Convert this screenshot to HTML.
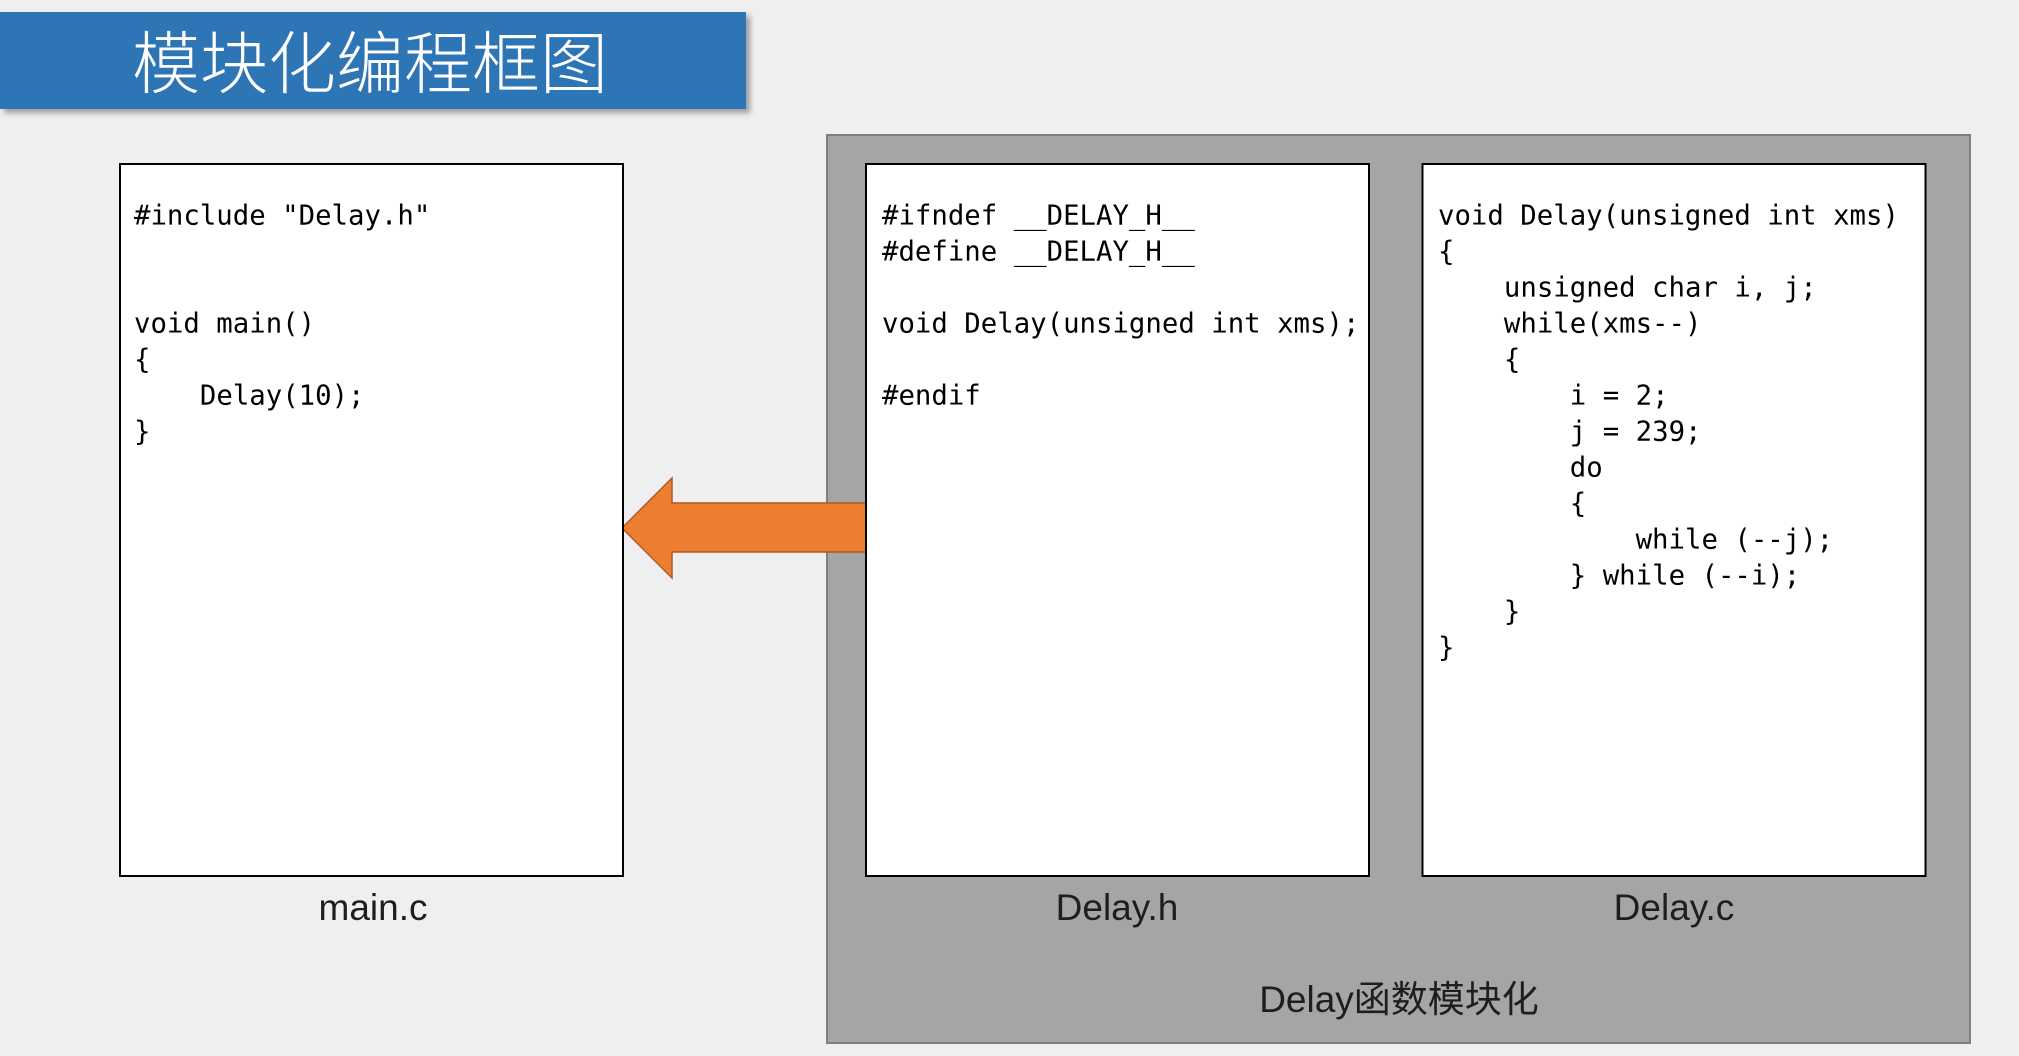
<!DOCTYPE html>
<html>
<head>
<meta charset="utf-8">
<style>
  html, body { margin: 0; padding: 0; background: #EFEFEF; }
  body { width: 2019px; height: 1056px; overflow: hidden; position: relative; }
  svg { position: absolute; left: 0; top: 0; }
  .code { font-family: "DejaVu Sans Mono", "Liberation Mono", monospace; font-size: 27.35px; fill: #000; }
  .lbl { font-family: "Liberation Sans", "Noto Sans CJK SC", sans-serif; font-size: 37px; fill: #1e1e1e; }
</style>
</head>
<body>
<svg width="2019" height="1056" viewBox="0 0 2019 1056" xmlns="http://www.w3.org/2000/svg">
  <defs>
    <filter id="sh" x="-5%" y="-20%" width="115%" height="160%">
      <feDropShadow dx="4" dy="4" stdDeviation="3" flood-color="#000" flood-opacity="0.35"/>
    </filter>
  </defs>
  <rect x="0" y="0" width="2019" height="1056" fill="#EFEFEF"/>

  <!-- Title bar -->
  <rect x="0" y="12" width="746" height="97" fill="#2E75B6" filter="url(#sh)"/>
  <text x="132" y="88" font-family="'Noto Sans CJK SC', 'WenQuanYi Zen Hei', sans-serif" font-weight="300" font-size="68" fill="#FFFFFF">模块化编程框图</text>

  <!-- Gray panel -->
  <rect x="827" y="135" width="1143" height="908" fill="#A5A5A5" stroke="#7F7F7F" stroke-width="2"/>

  <!-- Arrow -->
  <polygon points="622,528 672,478 672,503 866,503 866,552 672,552 672,578" fill="#ED7D31" stroke="#AE5A21" stroke-width="1.5" stroke-linejoin="miter"/>

  <!-- Boxes -->
  <rect x="120" y="164" width="503" height="712" fill="#FFFFFF" stroke="#000" stroke-width="2"/>
  <rect x="866" y="164" width="503" height="712" fill="#FFFFFF" stroke="#000" stroke-width="2"/>
  <rect x="1422.5" y="164" width="503" height="712" fill="#FFFFFF" stroke="#000" stroke-width="2"/>

  <!-- main.c code -->
  <g class="code">
    <text x="134" y="224.5">#include "Delay.h"</text>
    <text x="134" y="332.5">void main()</text>
    <text x="134" y="368.5">{</text>
    <text x="199.9" y="404.5">Delay(10);</text>
    <text x="134" y="440.5">}</text>
  </g>

  <!-- Delay.h code -->
  <g class="code">
    <text x="882" y="224.5">#ifndef __DELAY_H__</text>
    <text x="882" y="260.5">#define __DELAY_H__</text>
    <text x="882" y="332.5">void Delay(unsigned int xms);</text>
    <text x="882" y="404.5">#endif</text>
  </g>

  <!-- Delay.c code -->
  <g class="code">
    <text x="1438" y="224.5">void Delay(unsigned int xms)</text>
    <text x="1438" y="260.5">{</text>
    <text x="1503.9" y="296.5">unsigned char i, j;</text>
    <text x="1503.9" y="332.5">while(xms--)</text>
    <text x="1503.9" y="368.5">{</text>
    <text x="1569.8" y="404.5">i = 2;</text>
    <text x="1569.8" y="440.5">j = 239;</text>
    <text x="1569.8" y="476.5">do</text>
    <text x="1569.8" y="512.5">{</text>
    <text x="1635.6" y="548.5">while (--j);</text>
    <text x="1569.8" y="584.5">} while (--i);</text>
    <text x="1503.9" y="620.5">}</text>
    <text x="1438" y="656.5">}</text>
  </g>

  <!-- Labels -->
  <text class="lbl" x="373" y="920" text-anchor="middle">main.c</text>
  <text class="lbl" x="1117" y="920" text-anchor="middle">Delay.h</text>
  <text class="lbl" x="1674" y="920" text-anchor="middle">Delay.c</text>
  <text class="lbl" x="1399" y="1012" text-anchor="middle">Delay函数模块化</text>
</svg>
</body>
</html>
